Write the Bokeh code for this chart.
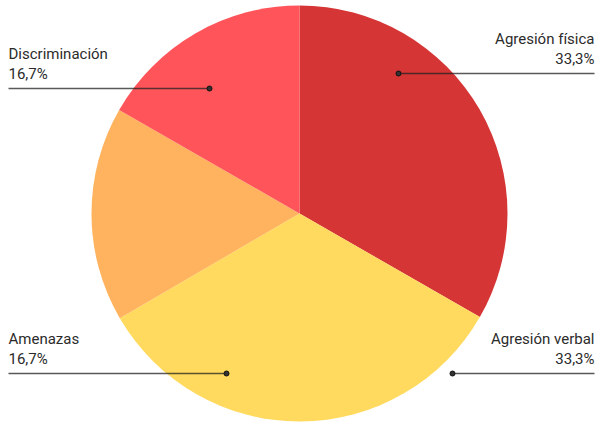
from bokeh.plotting import figure
from bokeh.models import Range1d, ColumnDataSource
from bokeh.embed import file_html
from bokeh.resources import INLINE
from bokeh.core.properties import value

# ---- data ----
categories = ["Agresión física", "Agresión verbal", "Amenazas", "Discriminación"]
shares = [33.3, 33.3, 16.7, 16.7]
share_labels = ["33,3%", "33,3%", "16,7%", "16,7%"]
colors = ["#D63535", "#FFDA5E", "#FFB35E", "#FF5459"]

# ---- layout (plot pixels, y measured from top) ----
W, H = 598, 423
CX, CY, R = 299, 213, 208
label_side = ["right", "right", "left", "left"]
dot_x = [398, 452, 226, 209]
line_y = [73, 373, 373, 88]
LEFT, RIGHT = 8, 594

p = figure(width=W, height=H, x_range=Range1d(0, W), y_range=Range1d(0, H),
           output_backend="svg", toolbar_location=None, min_border=0,
           x_axis_type=None, y_axis_type=None)
p.grid.visible = False
p.outline_line_color = None
p.background_fill_color = "white"

total = sum(shares)
starts, ends = [], []
cum = 0.0
for s in shares:
    starts.append(90 - 360 * cum / total)
    cum += s
    ends.append(90 - 360 * cum / total)

src = ColumnDataSource(dict(start=starts, end=ends, color=colors))
p.wedge(x=CX, y=H - CY, radius=R, start_angle="start", end_angle="end",
        start_angle_units="deg", end_angle_units="deg", direction="clock",
        fill_color="color", line_color=None, source=src)

font = value("Roboto")
for cat, lab, side, dx, ly in zip(categories, share_labels, label_side, dot_x, line_y):
    y = H - ly
    if side == "right":
        x0, x1, tx, align = dx, RIGHT, RIGHT, "right"
    else:
        x0, x1, tx, align = LEFT, dx, LEFT, "left"
    p.segment(x0=[x0], y0=[y], x1=[x1], y1=[y], line_color="#222222",
              line_alpha=0.75, line_width=1.3)
    p.scatter(x=[dx], y=[y], size=5, fill_color="#333333", line_color="#111111")
    p.text(x=[tx], y=[y + 35], text=[cat], text_align=align, text_baseline="alphabetic",
           text_font=font, text_font_size="15px", text_color="#2b2b2b")
    p.text(x=[tx], y=[y + 15], text=[lab], text_align=align, text_baseline="alphabetic",
           text_font=font, text_font_size="15px", text_color="#2b2b2b")

open("out.html", "w").write(file_html(p, INLINE))
